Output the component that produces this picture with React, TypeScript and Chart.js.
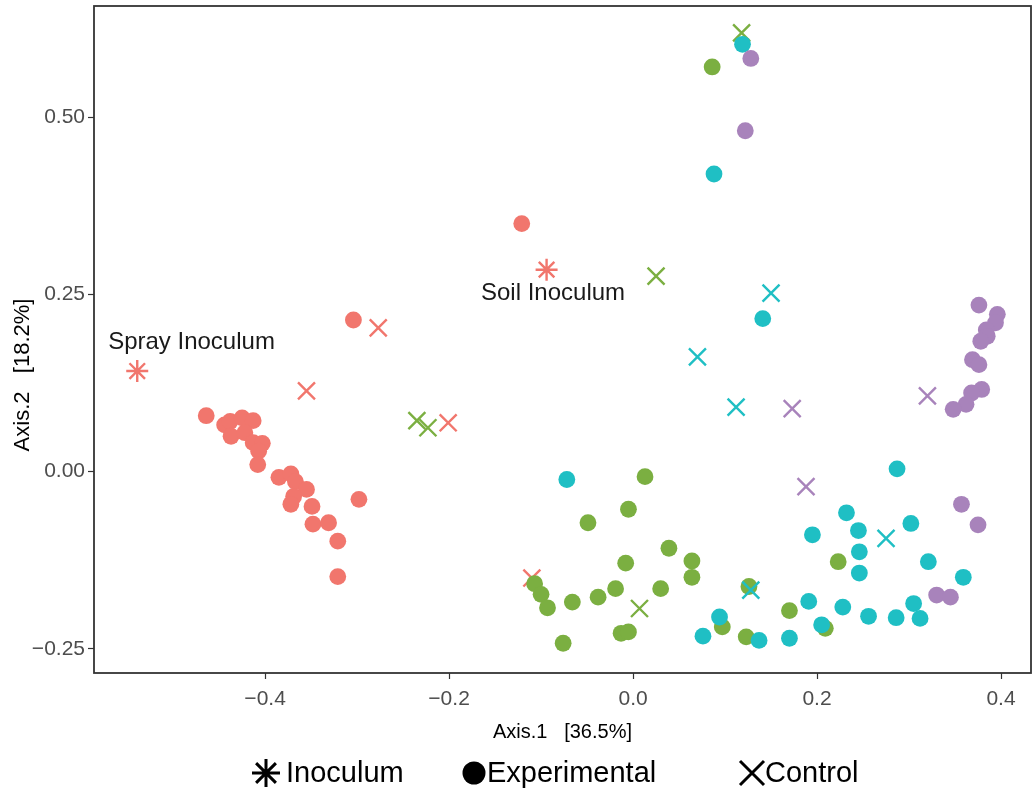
import React, { useEffect, useRef } from 'react';
import { Chart, registerables } from 'chart.js';

Chart.register(...registerables);

// ---- data (Axis.1, Axis.2) ----
const redCircles: [number, number][] = [
  [-0.464, 0.079], [-0.444, 0.066], [-0.438, 0.071], [-0.425, 0.076], [-0.413, 0.072],
  [-0.437, 0.050], [-0.422, 0.055], [-0.413, 0.041], [-0.403, 0.040], [-0.407, 0.029],
  [-0.408, 0.010], [-0.385, -0.008], [-0.372, -0.003], [-0.367, -0.014], [-0.355, -0.025],
  [-0.369, -0.035], [-0.372, -0.046], [-0.349, -0.049], [-0.348, -0.074], [-0.331, -0.072],
  [-0.321, -0.098], [-0.321, -0.148], [-0.298, -0.039], [-0.304, 0.214], [-0.121, 0.350],
];
const redCrosses: [number, number][] = [
  [-0.355, 0.114], [-0.277, 0.203], [-0.201, 0.069], [-0.110, -0.150],
];
const redInoculum: [number, number][] = [
  [-0.539, 0.142], [-0.094, 0.285],
];
const greenCircles: [number, number][] = [
  [0.086, 0.571], [0.013, -0.007], [-0.005, -0.053], [-0.049, -0.072], [0.039, -0.108],
  [0.064, -0.126], [0.064, -0.149], [-0.008, -0.129], [0.030, -0.165], [-0.019, -0.165],
  [-0.038, -0.177], [-0.066, -0.184], [-0.107, -0.158], [-0.100, -0.173], [-0.093, -0.192],
  [-0.076, -0.242], [-0.013, -0.228], [-0.005, -0.226], [0.223, -0.127], [0.170, -0.196],
  [0.209, -0.221], [0.123, -0.233], [0.126, -0.162], [0.097, -0.219],
];
const greenCrosses: [number, number][] = [
  [0.118, 0.619], [0.025, 0.276], [-0.235, 0.072], [-0.223, 0.062], [0.007, -0.193],
];
const cyanCircles: [number, number][] = [
  [0.119, 0.603], [0.088, 0.420], [0.141, 0.216], [-0.072, -0.011], [0.287, 0.004],
  [0.232, -0.058], [0.302, -0.073], [0.195, -0.089], [0.245, -0.083], [0.246, -0.113],
  [0.246, -0.143], [0.321, -0.127], [0.359, -0.149], [0.305, -0.186], [0.312, -0.207],
  [0.286, -0.206], [0.256, -0.204], [0.228, -0.191], [0.191, -0.183], [0.205, -0.216],
  [0.170, -0.235], [0.137, -0.238], [0.094, -0.205], [0.076, -0.232],
];
const cyanCrosses: [number, number][] = [
  [0.150, 0.252], [0.070, 0.162], [0.112, 0.091], [0.275, -0.094], [0.128, -0.167],
];
const purpleCircles: [number, number][] = [
  [0.128, 0.583], [0.122, 0.481], [0.376, 0.235], [0.396, 0.222], [0.394, 0.210],
  [0.384, 0.200], [0.385, 0.191], [0.378, 0.184], [0.369, 0.158], [0.376, 0.151],
  [0.379, 0.116], [0.368, 0.111], [0.362, 0.095], [0.348, 0.088], [0.357, -0.046],
  [0.375, -0.075], [0.330, -0.174], [0.345, -0.177],
];
const purpleCrosses: [number, number][] = [
  [0.173, 0.089], [0.320, 0.107], [0.188, -0.021],
];

const labelTexts = ['Spray Inoculum', 'Soil Inoculum'];
const labelPositions: [number, number][] = [[-0.480, 0.182], [-0.087, 0.252]];

const xTicks = [-0.4, -0.2, 0.0, 0.2, 0.4];
const yTicks = [-0.25, 0.0, 0.25, 0.5];
const xRange = [-0.586, 0.4326];
const yRange = [-0.284, 0.657];

const xTitle = 'Axis.1   [36.5%]';
const yTitle = 'Axis.2   [18.2%]';

const legendNames = ['Inoculum', 'Experimental', 'Control'];
const legendShapes = ['star', 'circle', 'cross'];
// legend layout (pixels): marker centre x and text start x
const legendMarkerX = [266, 474, 752];
const legendTextX = [286, 487, 765];

const COLORS = {
  red: '#F1766D',
  green: '#7BAF41',
  cyan: '#1FBFC4',
  purple: '#A883BB',
};

const FONT = '"Liberation Sans", Arial, Helvetica, sans-serif';
const fmt = (v: number, d: number) => (v < 0 ? '\u2212' : '') + Math.abs(v).toFixed(d);
const toPts = (arr: [number, number][]) => arr.map(([x, y]) => ({ x, y }));

function circleSet(data: [number, number][], color: string) {
  return {
    data: toPts(data),
    pointStyle: 'circle',
    pointRadius: 8.4,
    backgroundColor: color,
    borderColor: color,
    borderWidth: 0,
  };
}
function crossSet(data: [number, number][], color: string) {
  return {
    data: toPts(data),
    pointStyle: 'crossRot',
    pointRadius: 12,
    backgroundColor: color,
    borderColor: color,
    borderWidth: 2.4,
  };
}
function starSet(data: [number, number][], color: string) {
  return {
    data: toPts(data),
    pointStyle: 'star',
    pointRadius: 11,
    backgroundColor: color,
    borderColor: color,
    borderWidth: 2.4,
  };
}

function drawMarker(ctx: CanvasRenderingContext2D, shape: string, x: number, y: number) {
  ctx.save();
  ctx.strokeStyle = '#000';
  ctx.fillStyle = '#000';
  ctx.lineWidth = 3;
  ctx.beginPath();
  if (shape === 'circle') {
    ctx.arc(x, y, 11.5, 0, Math.PI * 2);
    ctx.fill();
  } else if (shape === 'cross') {
    const r = 12;
    ctx.moveTo(x - r, y - r); ctx.lineTo(x + r, y + r);
    ctx.moveTo(x + r, y - r); ctx.lineTo(x - r, y + r);
    ctx.stroke();
  } else {
    const r = 14;
    const d = r * Math.SQRT1_2;
    ctx.moveTo(x - r, y); ctx.lineTo(x + r, y);
    ctx.moveTo(x, y - r); ctx.lineTo(x, y + r);
    ctx.moveTo(x - d, y - d); ctx.lineTo(x + d, y + d);
    ctx.moveTo(x + d, y - d); ctx.lineTo(x - d, y + d);
    ctx.stroke();
  }
  ctx.restore();
}

const decorPlugin = {
  id: 'decor',
  beforeDatasetsDraw(chart: any) {
    const { ctx, chartArea } = chart;
    ctx.save();
    ctx.strokeStyle = '#333333';
    ctx.lineWidth = 1.8;
    ctx.strokeRect(chartArea.left, chartArea.top, chartArea.right - chartArea.left, chartArea.bottom - chartArea.top);
    ctx.restore();
  },
  afterDatasetsDraw(chart: any) {
    const { ctx, scales } = chart;
    ctx.save();
    ctx.font = `24px ${FONT}`;
    ctx.fillStyle = '#1A1A1A';
    ctx.textAlign = 'center';
    ctx.textBaseline = 'middle';
    labelTexts.forEach((t, i) => {
      const [lx, ly] = labelPositions[i];
      ctx.fillText(t, scales.x.getPixelForValue(lx), scales.y.getPixelForValue(ly));
    });
    ctx.restore();
  },
  afterDraw(chart: any) {
    const { ctx, height } = chart;
    // y axis title
    ctx.save();
    ctx.font = `22px ${FONT}`;
    ctx.fillStyle = '#000';
    ctx.textAlign = 'center';
    ctx.textBaseline = 'middle';
    ctx.translate(23, 375);
    ctx.rotate(-Math.PI / 2);
    ctx.fillText(yTitle, 0, 0);
    ctx.restore();
    // legend
    ctx.save();
    ctx.font = `29px ${FONT}`;
    ctx.fillStyle = '#000';
    ctx.textBaseline = 'middle';
    ctx.textAlign = 'left';
    const cy = height - 20;
    legendNames.forEach((n, i) => {
      drawMarker(ctx, legendShapes[i], legendMarkerX[i], cy);
      ctx.fillText(n, legendTextX[i], cy + 1);
    });
    ctx.restore();
  },
};

const zeroPad = (s: any) => {
  s.paddingLeft = 0;
  s.paddingRight = 0;
  s.paddingTop = 0;
  s.paddingBottom = 0;
};

export default function App() {
  const canvasRef = useRef<HTMLCanvasElement | null>(null);

  useEffect(() => {
    const canvas = canvasRef.current;
    if (!canvas) return;
    Chart.defaults.font.family = FONT;
    const chart = new Chart(canvas, {
      type: 'scatter',
      data: {
        datasets: [
          circleSet(purpleCircles, COLORS.purple),
          crossSet(purpleCrosses, COLORS.purple),
          circleSet(cyanCircles, COLORS.cyan),
          crossSet(cyanCrosses, COLORS.cyan),
          circleSet(greenCircles, COLORS.green),
          crossSet(greenCrosses, COLORS.green),
          circleSet(redCircles, COLORS.red),
          crossSet(redCrosses, COLORS.red),
          starSet(redInoculum, COLORS.red),
        ] as any,
      },
      options: {
        animation: false,
        responsive: false,
        events: [],
        layout: { autoPadding: false, padding: { top: 6, right: 2, left: 0, bottom: 40 } },
        plugins: {
          legend: { display: false },
          tooltip: { enabled: false },
        },
        scales: {
          x: {
            type: 'linear',
            min: xRange[0],
            max: xRange[1],
            afterBuildTicks: (s: any) => { s.ticks = xTicks.map((v) => ({ value: v })); },
            afterFit: (s: any) => { s.height = 80; zeroPad(s); },
            grid: { drawOnChartArea: false, drawTicks: true, tickLength: 6, color: '#333333', tickWidth: 1.2 },
            border: { display: false },
            ticks: {
              autoSkip: false,
              maxRotation: 0,
              padding: 8,
              color: '#4D4D4D',
              font: { size: 21 },
              callback: (v: any) => fmt(Number(v), 1),
            },
            title: {
              display: true,
              text: xTitle,
              color: '#000',
              font: { size: 20 },
              padding: { top: 0, bottom: 9 },
            },
          },
          y: {
            type: 'linear',
            min: yRange[0],
            max: yRange[1],
            afterBuildTicks: (s: any) => { s.ticks = yTicks.map((v) => ({ value: v })); },
            afterFit: (s: any) => { s.width = 94; zeroPad(s); },
            grid: { drawOnChartArea: false, drawTicks: true, tickLength: 6, color: '#333333', tickWidth: 1.2 },
            border: { display: false },
            ticks: {
              autoSkip: false,
              padding: 3,
              color: '#4D4D4D',
              font: { size: 21 },
              callback: (v: any) => fmt(Number(v), 2),
            },
            title: { display: false },
          },
        },
      },
      plugins: [decorPlugin],
    } as any);
    return () => chart.destroy();
  }, []);

  return (
    <div style={{ position: 'fixed', left: 0, top: 0, width: 1033, height: 793, background: '#fff' }}>
      <canvas ref={canvasRef} width={1033} height={793} />
    </div>
  );
}
